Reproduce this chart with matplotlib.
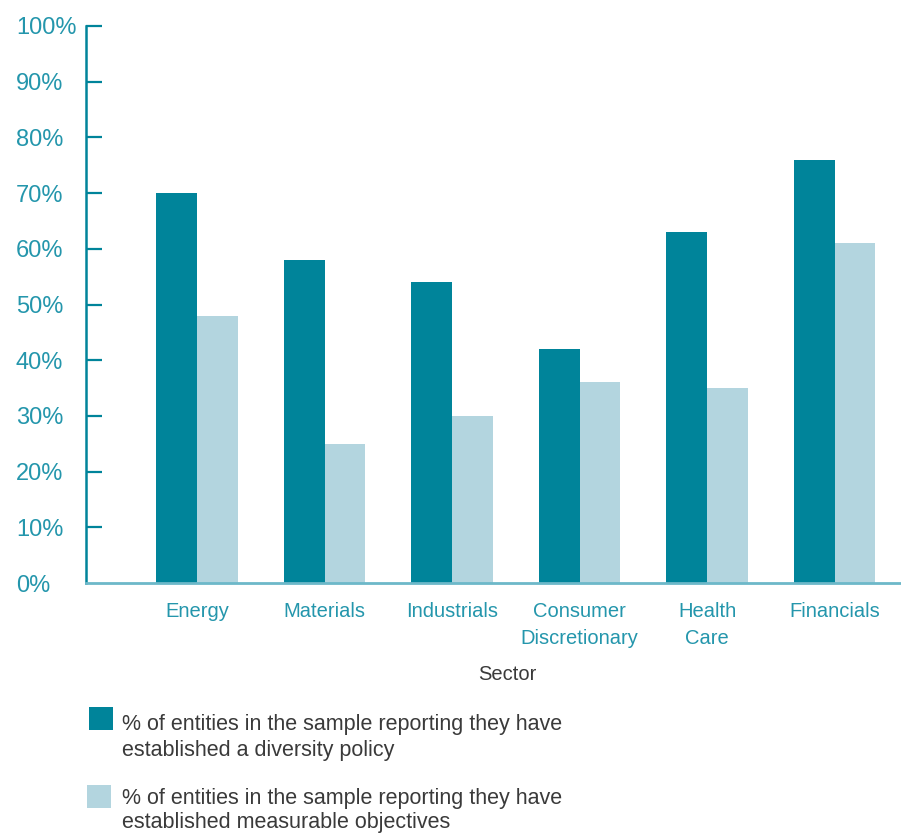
import matplotlib
matplotlib.use("Agg")
import matplotlib.pyplot as plt
from matplotlib.patches import Rectangle
import numpy as np

# Data
sectors = ["Energy", "Materials", "Industrials", "Consumer\nDiscretionary", "Health\nCare", "Financials"]
diversity_policy = [70, 58, 54, 42, 63, 76]
measurable_objectives = [48, 25, 30, 36, 35, 61]
y_ticks = [0, 10, 20, 30, 40, 50, 60, 70, 80, 90, 100]
y_tick_labels = [f"{v}%" for v in y_ticks]
legend_labels = [
    ["% of entities in the sample reporting they have", "established a diversity policy"],
    ["% of entities in the sample reporting they have", "established measurable objectives"],
]

DARK = "#00849A"
LIGHT = "#B3D5DF"
TEXT_TEAL = "#2496AC"
AXIS_LIGHT = "#6DB8C9"
GREY = "#3A3A3A"

plt.rcParams["font.family"] = ["Liberation Sans", "DejaVu Sans"]

W, H = 901, 834
fig = plt.figure(figsize=(W / 100, H / 100), dpi=100)

ax_left, ax_right = 86, 901
ax_top, ax_bottom = 26, 583
ax = fig.add_axes([ax_left / W, (H - ax_bottom) / H,
                   (ax_right - ax_left) / W, (ax_bottom - ax_top) / H])

x = np.arange(len(sectors))
bw = 0.32
ax.bar(x - bw / 2, diversity_policy, width=bw, color=DARK, linewidth=0)
ax.bar(x + bw / 2, measurable_objectives, width=bw, color=LIGHT, linewidth=0)

ax.set_xlim(-0.87, 5.52)
ax.set_ylim(0, 100)

# y tick labels sit flush-left in the margin
ax.set_yticks(y_ticks)
ax.set_yticklabels(y_tick_labels, fontsize=17, color=TEXT_TEAL, ha="left")
ax.tick_params(axis="y", direction="in", length=11.5, width=1.6, color=DARK,
               pad=(ax_left - 16) * 0.72)
ax.yaxis.get_major_ticks()[0].tick1line.set_visible(False)

ax.set_xticks(x)
ax.set_xticklabels(sectors, fontsize=14.5, color=TEXT_TEAL, linespacing=1.5)
ax.tick_params(axis="x", length=0, pad=14)

for side in ("top", "right"):
    ax.spines[side].set_visible(False)
ax.spines["left"].set_color(DARK)
ax.spines["left"].set_linewidth(1.8)
ax.spines["bottom"].set_color(AXIS_LIGHT)
ax.spines["bottom"].set_linewidth(2)

fig.text(507 / W, 1 - 675 / H, "Sector", fontsize=14.5, color=GREY, ha="center", va="center")

# Legend drawn as swatches plus text lines in figure pixel coordinates
swatches = [(89, 707, DARK, (730, 756)), (87, 785, LIGHT, (804, 828))]
for (sx, sy, col, baselines), lines in zip(swatches, legend_labels):
    fig.patches.append(Rectangle((sx / W, 1 - (sy + 23) / H), 24 / W, 23 / H,
                                 transform=fig.transFigure, facecolor=col,
                                 edgecolor="none"))
    for by, line in zip(baselines, lines):
        fig.text(122 / W, 1 - by / H, line, fontsize=15.5, color=GREY,
                 ha="left", va="baseline")

fig.savefig("out.png", dpi=100)
